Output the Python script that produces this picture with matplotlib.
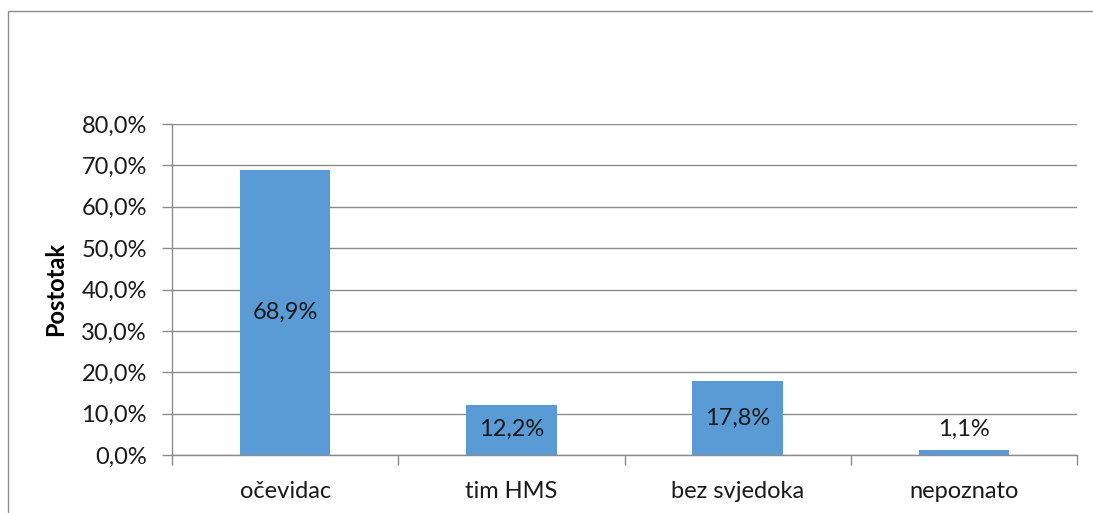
import matplotlib.pyplot as plt
import matplotlib.patches as mpatches
import numpy as np

plt.rcParams['font.family'] = ['Lato', 'DejaVu Sans']

categories = ['očevidac', 'tim HMS', 'bez svjedoka', 'nepoznato']
values = [68.9, 12.2, 17.8, 1.1]
yticks = [0, 10, 20, 30, 40, 50, 60, 70, 80]

W, H = 1093, 513
fig = plt.figure(figsize=(W / 100, H / 100), dpi=100)

# outer chart frame (only top/left edges fall inside the image)
fig.patches.append(mpatches.Rectangle((8 / W, -0.1), 1.2, 1.1 - 11 / H,
                                      transform=fig.transFigure, fill=False,
                                      edgecolor='#8c8c8c', linewidth=1.0))

ax = fig.add_axes([172 / W, 1 - 455 / H, (1077 - 172) / W, (455 - 124) / H])

x = np.arange(len(categories))
ax.bar(x, values, width=0.4, color='#5b9bd5', zorder=3)

fs = 17
for xi, v in zip(x, values):
    y = v / 2 if v > 5 else v + 5.2
    ax.text(xi, y, f'{v:.1f}%'.replace('.', ','), ha='center', va='center',
            fontsize=fs, color='#1a1a1a', zorder=4)

ax.set_xlim(-0.5, len(categories) - 0.5)
ax.set_ylim(0, 80)
ax.set_yticks(yticks)
ax.set_yticklabels([f'{t:.1f}%'.replace('.', ',') for t in yticks], fontsize=fs, color='#1a1a1a')
ax.yaxis.grid(True, color='#8c8c8c', linewidth=1.0, zorder=0)
ax.set_axisbelow(True)

ax.set_xticks(x)
ax.set_xticklabels(categories, fontsize=fs, color='#1a1a1a')
ax.tick_params(axis='x', length=0, pad=19)
ax.set_xticks(np.arange(-0.5, len(categories)), minor=True)
ax.tick_params(axis='x', which='minor', length=7, color='#8c8c8c', width=1.0)
ax.tick_params(axis='y', length=7, color='#8c8c8c', width=1.0, pad=11)

for s in ['top', 'right']:
    ax.spines[s].set_visible(False)
for s in ['left', 'bottom']:
    ax.spines[s].set_color('#8c8c8c')
    ax.spines[s].set_linewidth(1.0)

ax.set_ylabel('Postotak', fontsize=fs, fontweight='bold', labelpad=10)

fig.savefig('out.png', dpi=100)
